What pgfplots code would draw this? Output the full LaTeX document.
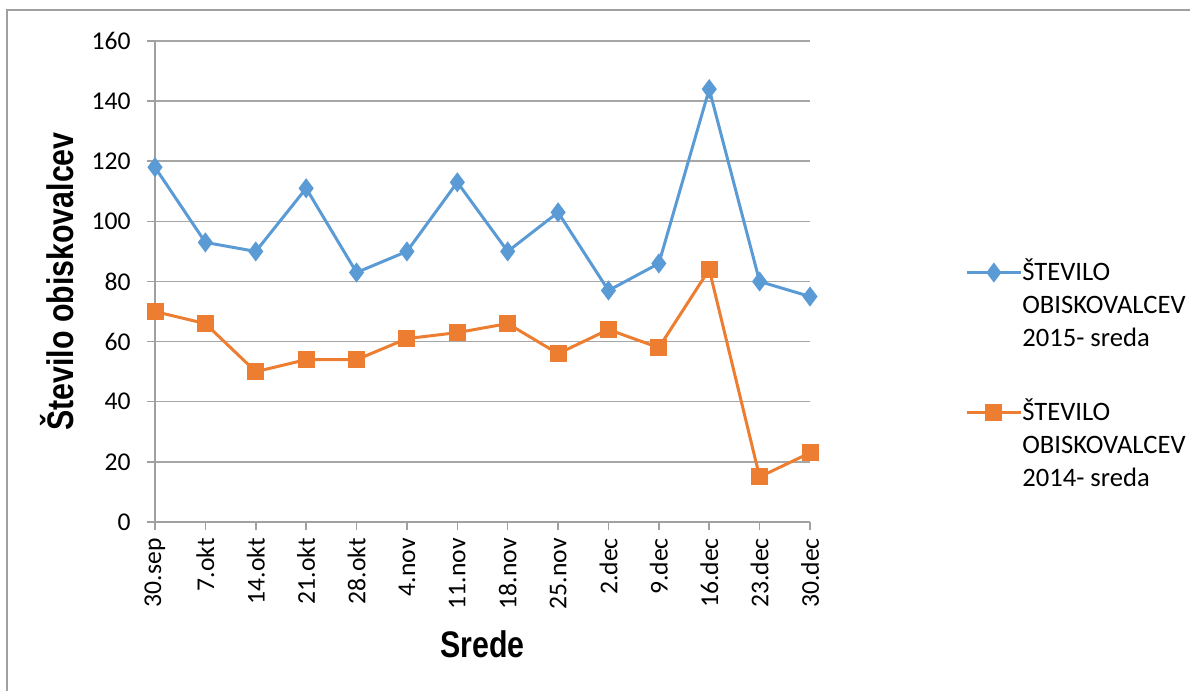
\documentclass[border=0pt]{standalone}
\usepackage{fontspec}
\setmainfont{Carlito}
\newfontfamily\titlefont[FakeStretch=0.82]{Liberation Sans}
\usepackage{pgfplots}
\pgfplotsset{compat=1.18}
\definecolor{sblue}{HTML}{5B9BD5}
\definecolor{sorange}{HTML}{ED7D31}
\definecolor{gridgray}{HTML}{A6A6A6}
\definecolor{framegray}{HTML}{A0A0A0}
\begin{document}
\begin{tikzpicture}
\useasboundingbox (0pt,0pt) rectangle (595pt,345.5pt);
\draw[framegray, line width=0.6pt] (3.5pt,0pt) -- (3.5pt,340.5pt) -- (595pt,340.5pt);
\begin{axis}[
  at={(77.5pt,84.5pt)}, anchor=south west,
  scale only axis, width=327.5pt, height=240.5pt,
  xmin=0, xmax=13, ymin=0, ymax=160,
  xtick={0,...,13},
  xticklabels={30.sep,7.okt,14.okt,21.okt,28.okt,4.nov,11.nov,18.nov,25.nov,2.dec,9.dec,16.dec,23.dec,30.dec},
  ytick={0,20,...,160},
  axis x line*=bottom, axis y line*=left,
  axis line style={framegray, line width=0.75pt},
  ymajorgrids, major grid style={gridgray, line width=0.75pt},
  tick align=outside, major tick length=4pt,
  tick style={framegray, line width=0.75pt},
  /pgf/number format/assume math mode=true,
  ticklabel style={font=\fontsize{12.8}{15}\selectfont, inner sep=0pt},
  xticklabel style={rotate=90, anchor=east},
  xticklabel shift=4pt, yticklabel shift=8pt,
  clip=false,
  xlabel={Srede}, ylabel={Število obiskovalcev},
  label style={font=\titlefont\bfseries\fontsize{18.5}{22}\selectfont},
  xlabel style={at={(axis description cs:0.5,-0.281)}, anchor=base},
  ylabel style={at={(axis description cs:-0.150,0.5)}, anchor=center, rotate=0},
  legend style={at={(1.2366,0.5592)}, anchor=north west, draw=none, fill=none,
    inner sep=0pt, row sep=53pt, column sep=-2pt,
    cells={anchor=base west, inner sep=0pt},
    font=\fontsize{13.3}{16.5}\selectfont},
  legend image code/.code={\draw[mark repeat=2,mark phase=2,#1] plot coordinates {(0pt,4pt) (13.5pt,4pt) (27pt,4pt)};},
]
\addplot[sblue, line width=1.5pt, mark=diamond*, mark size=3.8pt, mark options={solid}] coordinates {
(0,118) (1,93) (2,90) (3,111) (4,83) (5,90) (6,113) (7,90) (8,103) (9,77) (10,86) (11,144) (12,80) (13,75)};
\addlegendentry{\begin{tabular}[t]{@{}l@{}}ŠTEVILO\\OBISKOVALCEV\\2015- sreda\end{tabular}}
\addplot[sorange, line width=1.5pt, mark=square*, mark size=3.5pt, mark options={solid}] coordinates {
(0,70) (1,66) (2,50) (3,54) (4,54) (5,61) (6,63) (7,66) (8,56) (9,64) (10,58) (11,84) (12,15) (13,23)};
\addlegendentry{\begin{tabular}[t]{@{}l@{}}ŠTEVILO\\OBISKOVALCEV\\2014- sreda\end{tabular}}
\end{axis}
\end{tikzpicture}
\end{document}
